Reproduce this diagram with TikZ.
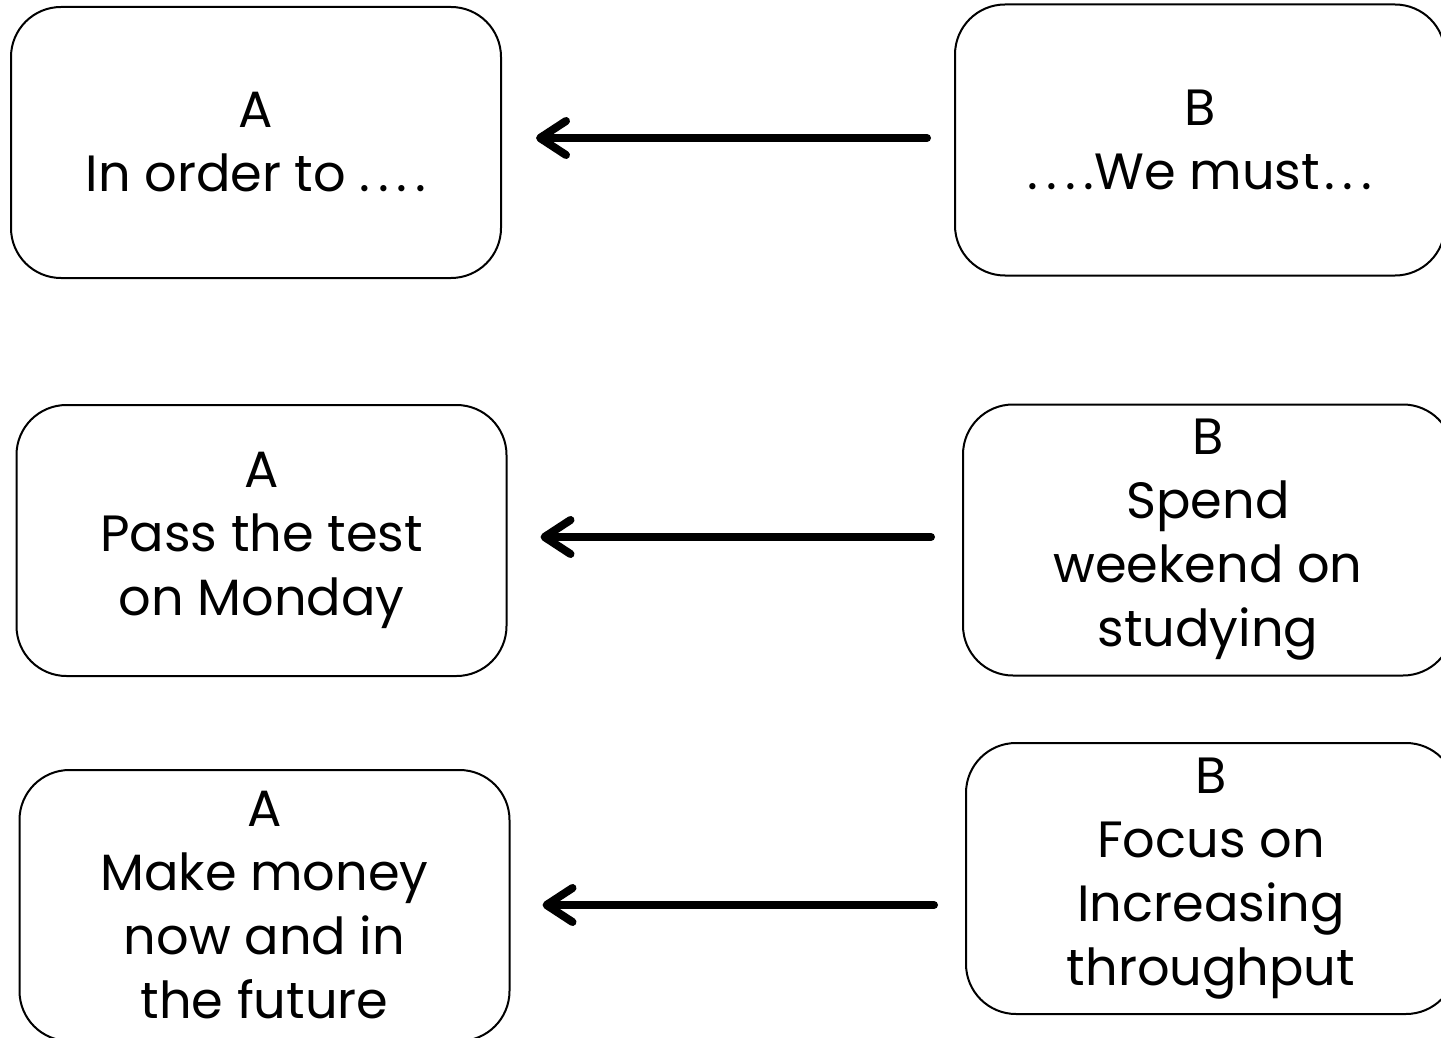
\documentclass[tikz,border=0pt]{standalone}
\usepackage{fontspec}
\setmainfont{Poppins}
\usetikzlibrary{arrows.meta}
\newcommand\spdot{.\kern4pt}
\begin{document}
\begin{tikzpicture}[x=0.5pt,y=-0.5pt,
  box/.style={draw=black, line width=1pt, rounded corners=25pt, inner sep=0pt,
    minimum width=245pt, minimum height=135.5pt, align=center,
    font=\fontsize{25.5}{32}\selectfont},
  arr/.style={line width=4pt, line cap=round,
    -{Straight Barb[length=13pt,width=17pt,line width=4pt,round]}}]
\useasboundingbox (0,0) rectangle (1441,1038);
\node[box] (a1) at (256,142.5) {A\\In order to \spdot\spdot\spdot.};
\node[box] (b1) at (1200,140) {B\\\spdot\spdot\spdot.We must\kern2pt\spdot\spdot.};
\node[box] (a2) at (261.5,540.5) {A\\Pass the test\\on Monday};
\node[box] (b2) at (1208,540) {B\\Spend\\weekend on\\studying};
\node[box] (a3) at (264.5,905.5) {A\\Make money\\now and in\\the future};
\node[box] (b3) at (1211,878.5) {B\\Focus on\\Increasing\\throughput};
\draw[arr, shorten <=13.5pt, shorten >=17pt] ([yshift=1pt]b1.west) -- ([yshift=1pt]b1.west -| a1.east);
\draw[arr, shorten <=15.5pt, shorten >=16.5pt] ([yshift=1.5pt]b2.west) -- ([yshift=1.5pt]b2.west -| a2.east);
\draw[arr, shorten <=15.5pt, shorten >=16pt] ([yshift=0.25pt]a3.east -| b3.west) -- ([yshift=0.25pt]a3.east);
\end{tikzpicture}
\end{document}
